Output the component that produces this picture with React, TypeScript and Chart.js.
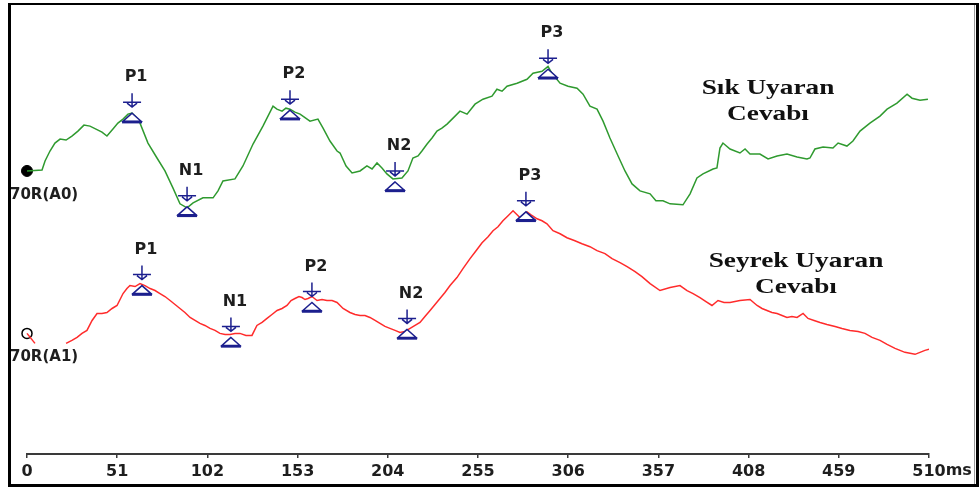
import React, { useEffect, useRef } from "react";
import { Chart, registerables } from "chart.js";

Chart.register(...registerables);

// Latency axis ticks (ms)
const TICKS_MS = [0, 51, 102, 153, 204, 255, 306, 357, 408, 459, 510];

// Frequent-stimulus response (green trace): latency in ms, amplitude in arbitrary units
const FREQ_MS = [
  0, 8.5, 10.2, 13.0, 15.8, 18.7, 22.1, 25.4, 28.8, 32.2, 35.6, 39.0, 42.4, 45.2, 48.6, 51.4, 54.3, 57.1,
  59.4, 61.6, 63.9, 68.4, 73.5, 78.0, 82.5, 86.5, 90.5, 93.9, 99.5, 105.2, 108.0, 110.8, 117.6, 122.1,
  127.8, 133.4, 139.1, 141.3, 144.2, 146.4, 148.7, 151.5, 154.4, 160.0, 164.5, 167.4, 171.3, 175.3, 177.0,
  180.4, 183.8, 188.3, 192.2, 195.1, 197.9, 200.7, 203.5, 206.9, 212.0, 215.4, 218.2, 221.1, 223.3, 226.2,
  229.0, 231.8, 234.6, 237.5, 240.9, 244.8, 248.8, 253.3, 257.8, 262.9, 265.7, 268.6, 271.4, 277.1, 282.7,
  286.1, 291.2, 294.6, 296.8, 301.4, 305.9, 311.0, 314.4, 318.3, 322.3, 325.7, 329.6, 334.2, 338.1, 342.1,
  346.6, 352.3, 355.6, 359.6, 363.6, 370.9, 374.9, 378.8, 382.2, 387.9, 390.1, 391.8, 393.5, 397.5, 403.1,
  406.0, 408.8, 414.4, 419.0, 424.1, 429.7, 435.4, 441.0, 442.7, 445.5, 450.1, 455.7, 458.6, 463.6, 467.0,
  471.0, 476.6, 482.3, 486.3, 491.9, 497.6, 500.4, 504.9, 509.4,
];
const FREQ_AMP = [
  28.4, 28.5, 29.4, 30.4, 31.2, 31.6, 31.5, 31.9, 32.4, 33.0, 32.9, 32.6, 32.3, 31.9, 32.6, 33.2, 33.6, 34.1,
  34.2, 33.8, 33.2, 31.2, 29.7, 28.4, 26.7, 25.1, 24.7, 25.2, 25.7, 25.7, 26.4, 27.4, 27.6, 28.9,
  31.1, 32.9, 34.9, 34.6, 34.4, 34.7, 34.6, 34.3, 34.1, 33.4, 33.6, 32.7, 31.4, 30.4, 30.2,
  28.9, 28.2, 28.4, 28.9, 28.6, 29.2, 28.7, 28.1, 27.6, 27.7, 28.4, 29.7, 29.9, 30.4, 31.1,
  31.7, 32.4, 32.7, 33.1, 33.7, 34.4, 34.1, 35.1, 35.6, 35.9, 36.6, 36.4, 36.9, 37.2, 37.6,
  38.2, 38.4, 38.9, 38.2, 37.2, 36.9, 36.7, 36.1, 34.9, 34.6, 33.4, 31.7, 29.9, 28.4, 27.1,
  26.4, 26.1, 25.4, 25.4, 25.1, 25.0, 26.1, 27.7, 28.1, 28.6, 28.7, 30.7, 31.2, 30.6, 30.2,
  30.6, 30.1, 30.1, 29.6, 29.9, 30.1, 29.8, 29.6, 29.7, 30.6, 30.8, 30.7, 31.2, 30.9, 31.4,
  32.4, 33.2, 33.9, 34.6, 35.2, 36.1, 35.7, 35.5, 35.6,
];

// Rare-stimulus response (red trace)
const RARE_MS = [
  22.1, 25.4, 28.3, 31.1, 33.9, 36.8, 39.6, 42.4, 45.2, 48.1, 50.9, 54.3, 56.5, 58.2, 61.1, 63.9, 66.7, 69.6,
  72.4, 75.2, 78.0, 80.9, 83.7, 86.5, 89.3, 92.2, 95.0, 97.8, 100.6, 103.5, 106.3, 109.1, 112.0, 114.8,
  117.6, 120.4, 123.8, 127.2, 130.0, 132.9, 135.7, 138.5, 141.4, 144.2, 147.0, 149.3, 151.5, 153.8, 155.5,
  157.2, 158.9, 161.1, 164.0, 166.8, 169.6, 172.5, 175.3, 178.7, 182.6, 185.5, 188.3, 191.1, 193.9, 196.8,
  199.6, 202.4, 205.2, 208.1, 210.9, 213.7, 216.6, 219.4, 222.2, 225.0, 227.9, 230.7, 233.5, 236.3, 239.2,
  243.1, 246.5, 250.5, 253.9, 257.3, 260.7, 263.5, 266.3, 269.1, 272.0, 274.8, 277.1, 278.8, 281.0, 282.7,
  285.0, 288.4, 291.2, 294.0, 297.4, 301.4, 305.3, 309.8, 313.8, 318.3, 322.3, 326.8, 330.8, 335.3, 339.3,
  343.8, 347.7, 352.3, 357.9, 363.6, 369.2, 373.2, 376.6, 380.5, 383.9, 387.3, 390.7, 394.1, 397.5, 403.1,
  408.8, 412.8, 415.6, 418.4, 421.2, 424.1, 426.9, 429.7, 432.5, 435.4, 438.8, 441.6, 445.0, 448.4, 452.3,
  456.9, 460.8, 465.3, 469.9, 473.8, 477.8, 482.3, 486.3, 490.8, 493.6, 496.4, 499.3, 502.1, 504.9, 507.7,
  510.0,
];
const RARE_AMP = [
  11.1, 11.4, 11.7, 12.1, 12.4, 13.4, 14.1, 14.1, 14.2, 14.6, 14.9, 16.1, 16.6, 16.9, 16.8, 17.1, 16.9, 16.6,
  16.4, 16.1, 15.8, 15.4, 15.0, 14.6, 14.2, 13.7, 13.4, 13.1, 12.9, 12.6, 12.4, 12.1, 12.0, 12.0,
  12.1, 12.1, 11.9, 11.9, 12.9, 13.2, 13.6, 14.0, 14.4, 14.6, 14.9, 15.4, 15.6, 15.8, 15.7,
  15.5, 15.6, 15.8, 15.4, 15.5, 15.4, 15.4, 15.2, 14.6, 14.2, 14.0, 13.9, 13.9, 13.7, 13.4,
  13.1, 12.8, 12.6, 12.4, 12.2, 12.3, 12.6, 12.9, 13.2, 13.8, 14.4, 15.0, 15.6, 16.2, 16.9,
  17.7, 18.6, 19.6, 20.4, 21.2, 21.8, 22.4, 22.8, 23.4, 23.9, 24.4, 24.0, 23.7, 24.1, 24.3,
  24.0, 23.6, 23.4, 23.1, 22.4, 22.1, 21.7, 21.4, 21.1, 20.8, 20.4, 20.1, 19.6, 19.2, 18.8,
  18.3, 17.8, 17.1, 16.4, 16.7, 16.9, 16.4, 16.1, 15.7, 15.3, 14.9, 15.4, 15.2, 15.2, 15.4,
  15.5, 14.9, 14.6, 14.4, 14.2, 14.1, 13.9, 13.7, 13.8, 13.7, 14.1, 13.6, 13.4, 13.2, 13.0,
  12.8, 12.6, 12.4, 12.3, 12.1, 11.7, 11.4, 11.0, 10.6, 10.4, 10.2, 10.1, 10.0, 10.2, 10.4,
  10.5,
];

// Channel start markers and the short lead-in of the rare trace
const CHANNEL_LABELS = ["70R(A0)", "70R(A1)"];
const CHANNEL_START_AMP = [28.4, 12.1];
const RARE_LEAD_MS = [0, 4.5];
const RARE_LEAD_AMP = [12.1, 11.1];

// Peak cursors
const PEAK_LABELS = ["P1", "N1", "P2", "N2", "P3"];
const FREQ_PEAK_MS = [59.4, 90.5, 148.7, 208.1, 294.6];
const FREQ_PEAK_AMP = [34.5, 25.1, 34.8, 27.6, 38.9];
const RARE_PEAK_MS = [65.0, 115.3, 161.1, 214.9, 282.1];
const RARE_PEAK_AMP = [17.2, 12.0, 15.5, 12.8, 24.6];

// Trace captions
const FREQ_TITLE = ["Sık Uyaran", "Cevabı"];
const RARE_TITLE = ["Seyrek Uyaran", "Cevabı"];

const GREEN = "#2f9a2f";
const RED = "#ff2b2b";
const CURSOR = "#1c1f8e";
const BOLD_SANS = "bold 16px 'DejaVu Sans', sans-serif";

const toPoints = (xs: number[], ys: number[]) => xs.map((x, i) => ({ x, y: ys[i] }));

function drawCursor(ctx: CanvasRenderingContext2D, px: number, py: number, label: string) {
  ctx.save();
  ctx.strokeStyle = CURSOR;
  ctx.lineWidth = 1.5;
  // down arrow with cross bar
  ctx.beginPath();
  ctx.moveTo(px, py - 17);
  ctx.lineTo(px, py - 3);
  ctx.moveTo(px - 9, py - 8);
  ctx.lineTo(px + 9, py - 8);
  ctx.moveTo(px - 5, py - 7);
  ctx.lineTo(px, py - 3);
  ctx.lineTo(px + 5, py - 7);
  ctx.stroke();
  // triangle under the point
  ctx.beginPath();
  ctx.moveTo(px, py + 3);
  ctx.lineTo(px - 9, py + 11);
  ctx.lineTo(px + 9, py + 11);
  ctx.closePath();
  ctx.fillStyle = "#ffffff";
  ctx.fill();
  ctx.stroke();
  ctx.lineWidth = 2.5;
  ctx.beginPath();
  ctx.moveTo(px - 10, py + 12);
  ctx.lineTo(px + 10, py + 12);
  ctx.stroke();
  // label
  ctx.fillStyle = "#1e1e1e";
  ctx.font = BOLD_SANS;
  ctx.textAlign = "center";
  ctx.textBaseline = "middle";
  ctx.fillText(label, px + 4, py - 33);
  ctx.restore();
}

function drawCaption(ctx: CanvasRenderingContext2D, lines: string[], cx: number, cy: number) {
  ctx.save();
  ctx.fillStyle = "#111111";
  ctx.font = "bold 21px 'Liberation Serif', 'Times New Roman', serif";
  ctx.textAlign = "center";
  ctx.textBaseline = "middle";
  lines.forEach((line, i) => {
    ctx.save();
    ctx.translate(cx, cy + i * 26);
    ctx.scale(1.3, 1);
    ctx.fillText(line, 0, 0);
    ctx.restore();
  });
  ctx.restore();
}

const overlayPlugin = {
  id: "evokedOverlay",
  afterDatasetsDraw(chart: any) {
    const { ctx, scales } = chart;
    const xs = scales.x;
    const ys = scales.y;
    FREQ_PEAK_MS.forEach((ms, i) =>
      drawCursor(ctx, xs.getPixelForValue(ms), ys.getPixelForValue(FREQ_PEAK_AMP[i]), PEAK_LABELS[i])
    );
    RARE_PEAK_MS.forEach((ms, i) =>
      drawCursor(ctx, xs.getPixelForValue(ms), ys.getPixelForValue(RARE_PEAK_AMP[i]), PEAK_LABELS[i])
    );
    // channel names below the start markers
    ctx.save();
    ctx.fillStyle = "#1e1e1e";
    ctx.font = "bold 15px 'DejaVu Sans', sans-serif";
    ctx.textAlign = "left";
    ctx.textBaseline = "middle";
    CHANNEL_LABELS.forEach((name, i) => {
      ctx.fillText(name, 10, ys.getPixelForValue(CHANNEL_START_AMP[i]) + 24);
    });
    ctx.restore();
    drawCaption(ctx, FREQ_TITLE, 768, 89);
    drawCaption(ctx, RARE_TITLE, 796, 262);
    // unit after the last tick label
    const last = TICKS_MS[TICKS_MS.length - 1];
    ctx.save();
    ctx.font = BOLD_SANS;
    const w = ctx.measureText(String(last)).width;
    ctx.fillStyle = "#1e1e1e";
    ctx.textAlign = "left";
    ctx.textBaseline = "middle";
    ctx.fillText("ms", xs.getPixelForValue(last) + w / 2, 471);
    ctx.restore();
  },
  afterDraw(chart: any) {
    const { ctx } = chart;
    ctx.save();
    ctx.fillStyle = "#000000";
    ctx.fillRect(8, 3, 971, 2);
    ctx.fillRect(8, 3, 3, 484);
    ctx.fillRect(976, 3, 3, 484);
    ctx.fillRect(8, 484, 971, 3);
    ctx.fillStyle = "#9a9a9a";
    ctx.fillRect(974, 5, 1, 479);
    ctx.restore();
  },
};

export default function App() {
  const ref = useRef<HTMLCanvasElement | null>(null);

  useEffect(() => {
    if (!ref.current) return;
    const chart = new Chart(ref.current, {
      type: "line",
      data: {
        datasets: [
          {
            data: toPoints(FREQ_MS, FREQ_AMP),
            borderColor: GREEN,
            borderWidth: 1.5,
            pointRadius: 0,
            tension: 0,
          },
          {
            data: toPoints(RARE_MS, RARE_AMP),
            borderColor: RED,
            borderWidth: 1.5,
            pointRadius: 0,
            tension: 0,
          },
          {
            data: toPoints(RARE_LEAD_MS, RARE_LEAD_AMP),
            borderColor: RED,
            borderWidth: 1.5,
            pointRadius: 0,
            clip: false,
          },
          {
            data: [{ x: 0, y: CHANNEL_START_AMP[0] }],
            showLine: false,
            pointRadius: 5.5,
            pointBackgroundColor: "#000000",
            pointBorderColor: "#000000",
            pointBorderWidth: 1,
            clip: false,
          },
          {
            data: [{ x: 0, y: CHANNEL_START_AMP[1] }],
            showLine: false,
            pointRadius: 5,
            pointBackgroundColor: "#ffffff",
            pointBorderColor: "#000000",
            pointBorderWidth: 1.5,
            clip: false,
          },
        ],
      },
      options: {
        animation: false,
        responsive: false,
        maintainAspectRatio: false,
        events: [],
        layout: { padding: { left: 27, right: 50, top: 5, bottom: 0 } },
        plugins: { legend: { display: false }, tooltip: { enabled: false } },
        scales: {
          x: {
            type: "linear",
            min: 0,
            max: 510,
            afterBuildTicks: (s: any) => {
              s.ticks = TICKS_MS.map((v) => ({ value: v }));
            },
            afterFit: (s: any) => {
              s.height = 34;
            },
            grid: {
              drawOnChartArea: false,
              drawTicks: true,
              tickLength: 4,
              color: "#3a3a3a",
              lineWidth: 1.5,
            },
            border: { display: true, color: "#3a3a3a", width: 2 },
            ticks: {
              padding: 4,
              color: "#1e1e1e",
              autoSkip: false,
              maxRotation: 0,
              font: { family: "'DejaVu Sans', sans-serif", weight: "bold", size: 16 },
            },
          },
          y: { display: false, min: 0, max: 44.9 },
        },
      },
      plugins: [overlayPlugin],
    } as any);
    return () => chart.destroy();
  }, []);

  return (
    <div style={{ position: "fixed", left: 0, top: 0, width: 979, height: 488, background: "#ffffff" }}>
      <canvas ref={ref} width={979} height={488} style={{ display: "block" }} />
    </div>
  );
}
